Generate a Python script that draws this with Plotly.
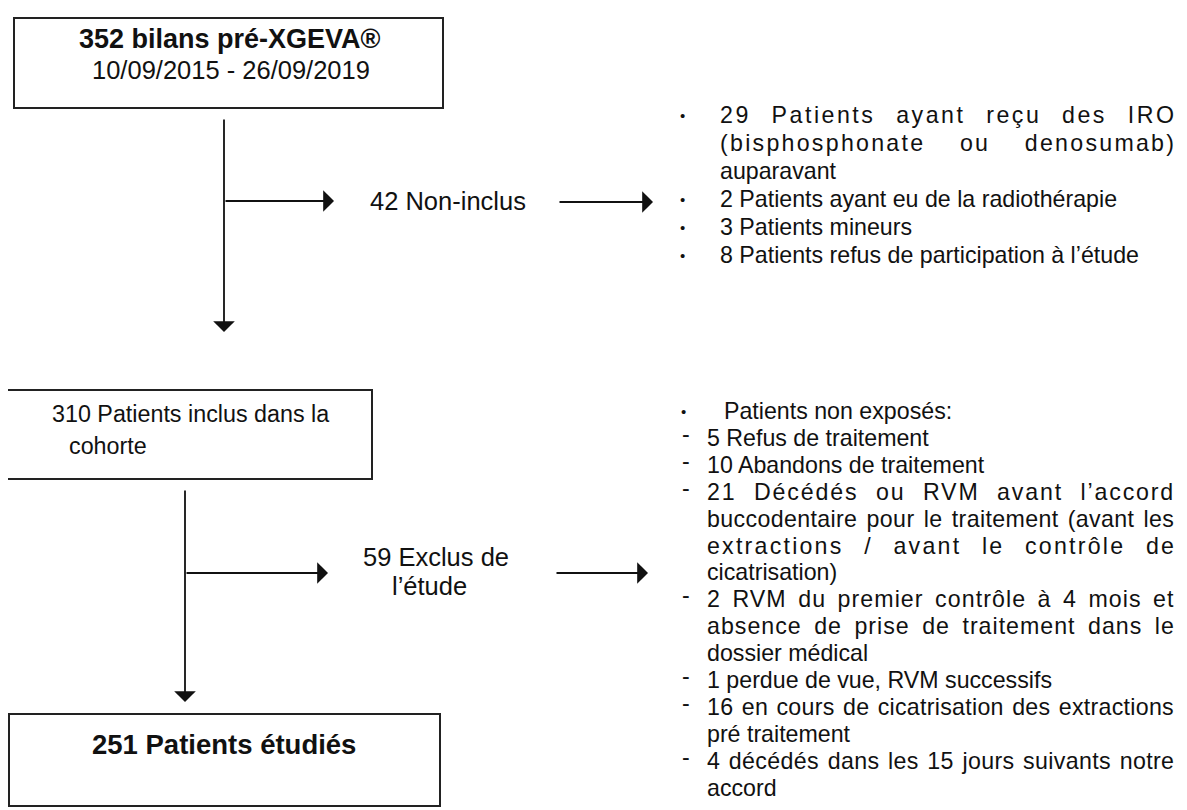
import plotly.graph_objects as go

# ---------------- data ----------------
total_bilans = 352
period = "10/09/2015 - 26/09/2019"
n_non_inclus = 42
n_inclus = 310
n_exclus = 59
n_etudies = 251

non_inclus_counts = [29, 2, 3, 8]
non_inclus_lines = [
    ["Patients ayant reçu des IRO", "(bisphosphonate ou denosumab)", "auparavant"],
    ["Patients ayant eu de la radiothérapie"],
    ["Patients mineurs"],
    ["Patients refus de participation à l’étude"],
]
non_inclus_justify = [[True, True, False], [False], [False], [False]]

exclus_header = "Patients non exposés:"
exclus_counts = [5, 10, 21, 2, 1, 16, 4]
exclus_lines = [
    ["Refus de traitement"],
    ["Abandons de traitement"],
    ["Décédés ou RVM avant l’accord", "buccodentaire pour le traitement (avant les",
     "extractions / avant le contrôle de", "cicatrisation)"],
    ["RVM du premier contrôle à 4 mois et", "absence de prise de traitement dans le",
     "dossier médical"],
    ["perdue de vue, RVM successifs"],
    ["en cours de cicatrisation des extractions", "pré traitement"],
    ["décédés dans les 15 jours suivants notre", "accord"],
]
exclus_justify = [[False], [False], [True, True, True, False], [True, True, False],
                  [False], [True, False], [True, False]]

# ---------------- styling ----------------
W, H = 1187, 810
PAGE = 8  # default body margin of the html page
FONT = "Liberation Sans, Arial, Helvetica, sans-serif"
INK = "#111111"

CW = {' ': .278, '(': .333, ')': .333, ',': .278, '-': .333, '.': .278, '/': .278,
      ':': .278, '’': .222, "'": .191,
      'A': .667, 'B': .667, 'C': .722, 'D': .722, 'E': .667, 'F': .611, 'G': .778,
      'H': .722, 'I': .278, 'J': .5, 'K': .667, 'L': .556, 'M': .833, 'N': .722,
      'O': .778, 'P': .667, 'Q': .778, 'R': .722, 'S': .667, 'T': .611, 'U': .722,
      'V': .667, 'W': .944, 'X': .667, 'Y': .667, 'Z': .611,
      'a': .556, 'b': .556, 'c': .5, 'd': .556, 'e': .556, 'f': .278, 'g': .556,
      'h': .556, 'i': .222, 'j': .222, 'k': .5, 'l': .222, 'm': .833, 'n': .556,
      'o': .556, 'p': .556, 'q': .556, 'r': .333, 's': .5, 't': .278, 'u': .556,
      'v': .5, 'w': .722, 'x': .5, 'y': .5, 'z': .5, 'é': .556, 'è': .556,
      'à': .556, 'ç': .5, 'ô': .556}


def text_width(s, size):
    return sum(CW.get(c, .556) for c in s) * size


fig = go.Figure()
fig.add_trace(go.Scatter(x=[PAGE, W], y=[PAGE, H], mode="markers",
                         marker=dict(opacity=0), hoverinfo="skip", showlegend=False))

shapes = []
annotations = []


def box(x0, y0, x1, y1):
    shapes.append(dict(type="rect", xref="x", yref="y", x0=x0, y0=y0, x1=x1, y1=y1,
                       line=dict(color="#222222", width=2), fillcolor="rgba(0,0,0,0)"))


def arrow(x0, y0, x1, y1):
    annotations.append(dict(x=x1, y=y1, ax=x0, ay=y0, xref="x", yref="y",
                            axref="x", ayref="y", text="", showarrow=True,
                            arrowhead=1, arrowsize=2.0, arrowwidth=1.8,
                            arrowcolor=INK, standoff=0, startstandoff=0))


def txt(s, x, y, size, anchor="left", bold=False):
    annotations.append(dict(x=x, y=y, xref="x", yref="y", text=(f"<b>{s}</b>" if bold else s),
                            showarrow=False, xanchor=anchor, yanchor="middle",
                            font=dict(family=FONT, size=size, color=INK)))


def justified(s, x0, x1, y, size):
    natural = text_width(s, size)
    extra = max(0.0, (x1 - x0) - natural)
    n_sp = s.count(" ")
    n_ch = len(s)
    ls = extra * 0.55 / max(1, n_ch - 1)
    ws = extra * 0.45 / max(1, n_sp)
    styled = f'<span style="letter-spacing:{ls:.2f}px;word-spacing:{ws:.2f}px">{s}</span>'
    txt(styled, x0, y, size)


# ---------------- boxes ----------------
box(14, 18, 443, 108)
txt(f"{total_bilans} bilans pré-XGEVA®", 230, 39, 27, anchor="center", bold=True)
txt(period, 231, 70, 25.5, anchor="center")

box(7, 390, 372, 479)
txt(f"{n_inclus} Patients inclus dans la", 50, 414, 23.3)
txt("cohorte", 67, 446, 23.3)

box(9, 714, 440, 806)
txt(f"{n_etudies} Patients étudiés", 224, 744, 27.5, anchor="center", bold=True)

# ---------------- connectors ----------------
arrow(224, 118, 224, 332)
arrow(224, 201, 334, 201)
txt(f"{n_non_inclus} Non-inclus", 448, 201, 25.5, anchor="center")
arrow(558, 202, 653, 202)

arrow(185, 489, 185, 702)
arrow(185, 573, 328, 573)
txt(f"{n_exclus} Exclus de", 436, 557, 25.5, anchor="center")
txt("l’étude", 429, 586, 25.5, anchor="center")
arrow(555, 573, 648, 573)

# ---------------- list of non-included ----------------
LS = 23.2
RIGHT = 1172
y = 115
for cnt, lines_, just in zip(non_inclus_counts, non_inclus_lines, non_inclus_justify):
    annotations.append(dict(x=682, y=y, xref="x", yref="y", text="•", showarrow=False,
                            xanchor="center", yanchor="middle",
                            font=dict(family=FONT, size=15, color=INK)))
    for i, (ln, j) in enumerate(zip(lines_, just)):
        s = f"{cnt} {ln}" if i == 0 else ln
        if j:
            justified(s, 718, RIGHT, y, LS)
        else:
            txt(s, 718, y, LS)
        y += 28

# ---------------- list of excluded ----------------
y = 411
dy = 26.9
annotations.append(dict(x=683, y=y, xref="x", yref="y", text="•", showarrow=False,
                        xanchor="center", yanchor="middle",
                        font=dict(family=FONT, size=15, color=INK)))
txt(exclus_header, 722, y, LS)
y += dy
for cnt, lines_, just in zip(exclus_counts, exclus_lines, exclus_justify):
    txt("-", 680, y - 4, LS)
    for i, (ln, j) in enumerate(zip(lines_, just)):
        s = f"{cnt} {ln}" if i == 0 else ln
        if j:
            justified(s, 705, RIGHT, y, LS)
        else:
            txt(s, 705, y, LS)
        y += dy

fig.update_layout(
    width=W - PAGE, height=H - PAGE,
    margin=dict(l=0, r=0, t=0, b=0),
    paper_bgcolor="white", plot_bgcolor="white",
    xaxis=dict(range=[PAGE, W], visible=False, fixedrange=True),
    yaxis=dict(range=[H, PAGE], visible=False, fixedrange=True),
    shapes=shapes, annotations=annotations, showlegend=False,
)

fig.write_html("out.html")
